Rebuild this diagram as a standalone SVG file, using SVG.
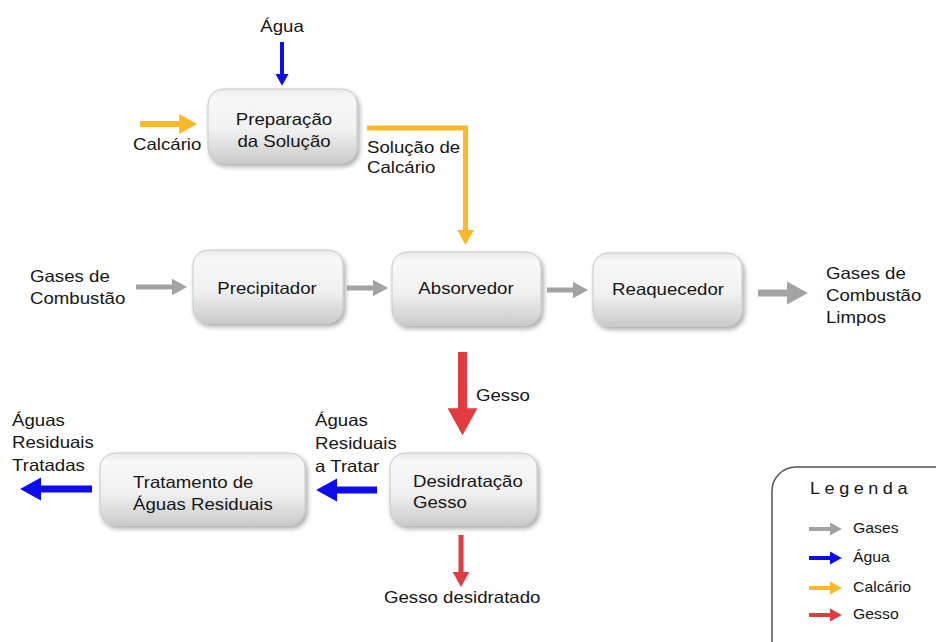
<svg xmlns="http://www.w3.org/2000/svg" width="936" height="642" viewBox="0 0 936 642">
  <defs>
    <style>
      .t { font-family: "Liberation Sans", Arial, sans-serif; font-size: 16.5px; fill: #161616; }
      .m { text-anchor: middle; }
      .lg { font-family: "Liberation Sans", Arial, sans-serif; font-size: 14px; fill: #161616; }
      .lt { font-family: "Liberation Sans", Arial, sans-serif; font-size: 16px; fill: #161616; letter-spacing: 4px; }
      .box { fill: url(#boxGrad); stroke: #c8c8c8; stroke-width: 1; filter: url(#shadow); }
      .a { fill: none; stroke-linecap: butt; stroke-linejoin: miter; }
      .gray { stroke: #a3a3a3; marker-end: url(#mGray); }
      .blue { stroke: #0c0cee; marker-end: url(#mBlue); }
      .orange { stroke: #fbb829; marker-end: url(#mOrange); }
      .red { stroke: #e23b40; marker-end: url(#mRed); }
    </style>
    <linearGradient id="boxGrad" x1="0" y1="0" x2="0" y2="1">
      <stop offset="0" stop-color="#e9e9e9"/>
      <stop offset="0.12" stop-color="#f8f8f8"/>
      <stop offset="0.55" stop-color="#f1f1f1"/>
      <stop offset="1" stop-color="#cbcbcb"/>
    </linearGradient>
    <filter id="shadow" x="-10%" y="-10%" width="125%" height="130%">
      <feGaussianBlur in="SourceAlpha" stdDeviation="2.5"/>
      <feOffset dx="2" dy="3" result="b"/>
      <feFlood flood-color="#000" flood-opacity="0.35"/>
      <feComposite in2="b" operator="in"/>
      <feMerge><feMergeNode/><feMergeNode in="SourceGraphic"/></feMerge>
    </filter>
    <marker id="mGray" viewBox="0 0 10 11" refX="1" refY="5.5" markerWidth="3" markerHeight="3.3" orient="auto" markerUnits="strokeWidth">
      <path d="M0,0 L10,5.5 L0,11 z" fill="#a3a3a3"/>
    </marker>
    <marker id="mBlue" viewBox="0 0 10 11" refX="1" refY="5.5" markerWidth="3" markerHeight="3.3" orient="auto" markerUnits="strokeWidth">
      <path d="M0,0 L10,5.5 L0,11 z" fill="#0c0cee"/>
    </marker>
    <marker id="mOrange" viewBox="0 0 10 11" refX="1" refY="5.5" markerWidth="3" markerHeight="3.3" orient="auto" markerUnits="strokeWidth">
      <path d="M0,0 L10,5.5 L0,11 z" fill="#fbb829"/>
    </marker>
    <marker id="mRed" viewBox="0 0 10 11" refX="1" refY="5.5" markerWidth="3" markerHeight="3.3" orient="auto" markerUnits="strokeWidth">
      <path d="M0,0 L10,5.5 L0,11 z" fill="#e23b40"/>
    </marker>
  </defs>

  <rect width="936" height="642" fill="#ffffff"/>

  <!-- Connectors -->
  <g id="connectors">
    <line class="a blue" x1="282" y1="42" x2="282" y2="75" stroke-width="4"/>
    <line class="a orange" x1="140" y1="124" x2="181" y2="124" stroke-width="6"/>
    <path class="a orange" d="M367,128 H465.5 V231.5" stroke-width="5"/>
    <line class="a gray" x1="136" y1="287" x2="173.5" y2="287" stroke-width="5"/>
    <line class="a gray" x1="347" y1="288" x2="374.5" y2="288" stroke-width="5"/>
    <line class="a gray" x1="547" y1="290" x2="574.5" y2="290" stroke-width="5"/>
    <line class="a gray" x1="758" y1="293" x2="789" y2="293" stroke-width="7"/>
    <line class="a red" x1="462.5" y1="352" x2="462.5" y2="411" stroke-width="9"/>
    <line class="a blue" x1="377" y1="490" x2="335" y2="490" stroke-width="7"/>
    <line class="a blue" x1="92" y1="489" x2="39" y2="489" stroke-width="7"/>
    <line class="a red" x1="461" y1="535" x2="461" y2="573.5" stroke-width="5"/>
  </g>

  <!-- Nodes -->
  <g id="node-preparacao">
    <rect class="box" x="208" y="89" width="149" height="74" rx="15"/>
    <text class="t m" transform="translate(284,125) scale(1.13,1)"><tspan x="0" y="0">Preparação</tspan><tspan x="0" dy="22">da Solução</tspan></text>
  </g>
  <g id="node-precipitador">
    <rect class="box" x="193" y="250" width="150" height="73" rx="15"/>
    <text class="t m" transform="translate(267,294) scale(1.13,1)">Precipitador</text>
  </g>
  <g id="node-absorvedor">
    <rect class="box" x="392" y="252" width="149" height="73" rx="15"/>
    <text class="t m" transform="translate(466,294) scale(1.13,1)">Absorvedor</text>
  </g>
  <g id="node-reaquecedor">
    <rect class="box" x="593" y="253" width="149" height="73" rx="15"/>
    <text class="t m" transform="translate(668,295) scale(1.13,1)">Reaquecedor</text>
  </g>
  <g id="node-desidratacao">
    <rect class="box" x="390" y="453" width="147" height="72" rx="15"/>
    <text class="t" transform="translate(413,487) scale(1.13,1)"><tspan x="0" y="0">Desidratação</tspan><tspan x="0" dy="21">Gesso</tspan></text>
  </g>
  <g id="node-tratamento">
    <rect class="box" x="100" y="453" width="205" height="72" rx="15"/>
    <text class="t" transform="translate(133,488) scale(1.13,1)"><tspan x="0" y="0">Tratamento de</tspan><tspan x="0" dy="22">Águas Residuais</tspan></text>
  </g>

  <!-- Labels -->
  <g id="labels">
    <text class="t m" transform="translate(282,32) scale(1.13,1)">Água</text>
    <text class="t" transform="translate(133,150) scale(1.13,1)">Calcário</text>
    <text class="t" transform="translate(367,153) scale(1.13,1)"><tspan x="0" y="0">Solução de</tspan><tspan x="0" dy="20">Calcário</tspan></text>
    <text class="t" transform="translate(30,282) scale(1.13,1)"><tspan x="0" y="0">Gases de</tspan><tspan x="0" dy="22">Combustão</tspan></text>
    <text class="t" transform="translate(826,279) scale(1.13,1)"><tspan x="0" y="0">Gases de</tspan><tspan x="0" dy="22.5">Combustão</tspan><tspan x="0" dy="22">Limpos</tspan></text>
    <text class="t" transform="translate(476,401) scale(1.13,1)">Gesso</text>
    <text class="t" transform="translate(315,426) scale(1.13,1)"><tspan x="0" y="0">Águas</tspan><tspan x="0" dy="23">Residuais</tspan><tspan x="0" dy="23">a Tratar</tspan></text>
    <text class="t" transform="translate(12,426) scale(1.13,1)"><tspan x="0" y="0">Águas</tspan><tspan x="0" dy="22.5">Residuais</tspan><tspan x="0" dy="22.5">Tratadas</tspan></text>
    <text class="t" transform="translate(384,603) scale(1.13,1)">Gesso desidratado</text>
  </g>

  <!-- Legend -->
  <g id="legend">
    <rect x="772" y="467" width="220" height="220" rx="24" fill="#ffffff" stroke="#555555" stroke-width="1.5"/>
    <text class="lt" transform="translate(810,494) scale(1.13,1)">Legenda</text>
    <line class="a gray" x1="809" y1="529" x2="831" y2="529" stroke-width="4"/>
    <line class="a blue" x1="809" y1="558" x2="831" y2="558" stroke-width="4"/>
    <line class="a orange" x1="809" y1="588" x2="831" y2="588" stroke-width="4"/>
    <line class="a red" x1="809" y1="615" x2="831" y2="615" stroke-width="4"/>
    <text class="lg" transform="translate(853,533) scale(1.13,1)">Gases</text>
    <text class="lg" transform="translate(853,562) scale(1.13,1)">Água</text>
    <text class="lg" transform="translate(853,592) scale(1.13,1)">Calcário</text>
    <text class="lg" transform="translate(853,619) scale(1.13,1)">Gesso</text>
  </g>
</svg>
